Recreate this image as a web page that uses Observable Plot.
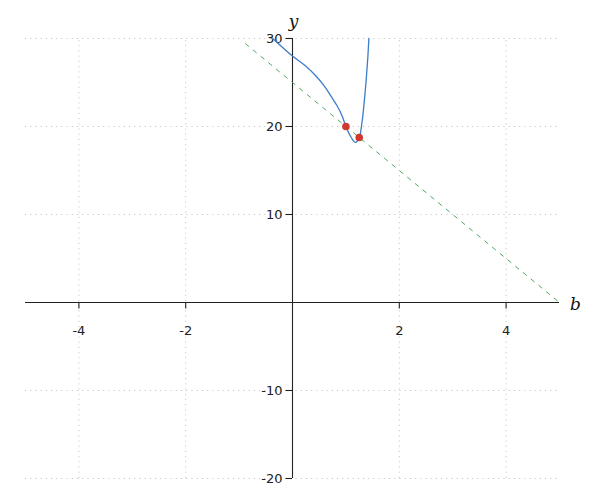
<!DOCTYPE html>
<html>
<head>
<meta charset="utf-8">
<script src="https://cdn.jsdelivr.net/npm/d3@7"></script>
<script src="https://cdn.jsdelivr.net/npm/@observablehq/plot@0.6"></script>
<style>
  html, body { margin: 0; padding: 0; background: #fff; }
  #chart { width: 600px; height: 500px; }
</style>
</head>
<body>
<div id="chart"></div>
<script>
// ---- data ----
const xTicks = [-4, -2, 2, 4];
const yTicks = [-20, -10, 10, 20, 30];
const xGrid = [-4, -2, 0, 2, 4];
const yGrid = [-20, -10, 0, 10, 20, 30];

// blue curve
const curveB = [-0.37, 0, 0.24, 0.43, 0.59, 0.72, 0.84, 0.93, 1.0, 1.10, 1.18, 1.25, 1.30, 1.34, 1.38, 1.41, 1.43];
const curveY = [30, 28.0, 26.9, 25.8, 24.65, 23.45, 22.3, 21.2, 20.0, 18.75, 18.2, 18.75, 20.4, 22.6, 25.3, 27.8, 30];

// green dashed line
const lineB = [-0.88, 5];
const lineY = [29.4, 0];

// red points
const pointB = [1, 1.25];
const pointY = [20, 18.75];

const xLabel = "b";
const yLabel = "y";

// ---- build ----
const W = 600, H = 500;
const mL = 25, mR = 41, mT = 38, mB = 22;
const xDomain = [-5, 5], yDomain = [-20, 30];
const pxPerY = (H - mT - mB) / (yDomain[1] - yDomain[0]);
const pxPerX = (W - mL - mR) / (xDomain[1] - xDomain[0]);
const tickLen = 6.5;

const curve = curveB.map((b, i) => ({b, y: curveY[i]}));
const line = lineB.map((b, i) => ({b, y: lineY[i]}));
const pts = pointB.map((b, i) => ({b, y: pointY[i]}));

const gridStyle = {stroke: "#c8c8c8", strokeOpacity: 1, strokeDasharray: "1.2,4", strokeWidth: 1};
const font = "DejaVu Sans, sans-serif";

const chart = Plot.plot({
  width: W, height: H,
  marginLeft: mL, marginRight: mR, marginTop: mT, marginBottom: mB,
  x: {domain: xDomain, axis: null},
  y: {domain: yDomain, axis: null},
  style: {fontFamily: font, background: "white", overflow: "visible"},
  marks: [
    Plot.ruleX(xGrid, {x: d => d, y1: yDomain[0], y2: yDomain[1], ...gridStyle}),
    Plot.ruleY(yGrid, {y: d => d, x1: xDomain[0], x2: xDomain[1], ...gridStyle}),
    // axis lines
    Plot.ruleY([0], {x1: xDomain[0], x2: xDomain[1], stroke: "#222", strokeWidth: 1.1}),
    Plot.ruleX([0], {y1: yDomain[0], y2: yDomain[1], stroke: "#222", strokeWidth: 1.1}),
    // tick marks
    Plot.ruleX(xTicks, {x: d => d, y1: 0, y2: -tickLen / pxPerY, stroke: "#222", strokeWidth: 1.1}),
    Plot.ruleY(yTicks, {y: d => d, x1: 0, x2: -tickLen / pxPerX, stroke: "#222", strokeWidth: 1.1}),
    // tick labels
    Plot.text(xTicks, {x: d => d, y: 0, text: d => String(d), dy: 28, fontSize: 13, fill: "#222", textAnchor: "middle", fontFamily: font}),
    Plot.text(yTicks, {x: 0, y: d => d, text: d => String(d), dx: -10, fontSize: 13, fill: "#222", textAnchor: "end", fontFamily: font}),
    // axis labels
    Plot.text([yLabel], {x: 0, y: yDomain[1], text: d => d, dy: -17, dx: 1, fontSize: 17, fontStyle: "italic", fontFamily: "DejaVu Serif, serif", fill: "#111"}),
    Plot.text([xLabel], {x: xDomain[1], y: 0, text: d => d, dx: 16, dy: 2, fontSize: 17, fontStyle: "italic", fontFamily: "DejaVu Serif, serif", fill: "#111"}),
    // data
    Plot.line(line, {x: "b", y: "y", stroke: "#4fa760", strokeWidth: 1, strokeDasharray: "4,6"}),
    Plot.line(curve, {x: "b", y: "y", stroke: "#3d7cc9", strokeWidth: 1.3, curve: "catmull-rom"}),
    Plot.dot(pts, {x: "b", y: "y", r: 3.8, fill: "#d0392f", stroke: "none"})
  ]
});
document.getElementById("chart").appendChild(chart);
</script>
</body>
</html>
